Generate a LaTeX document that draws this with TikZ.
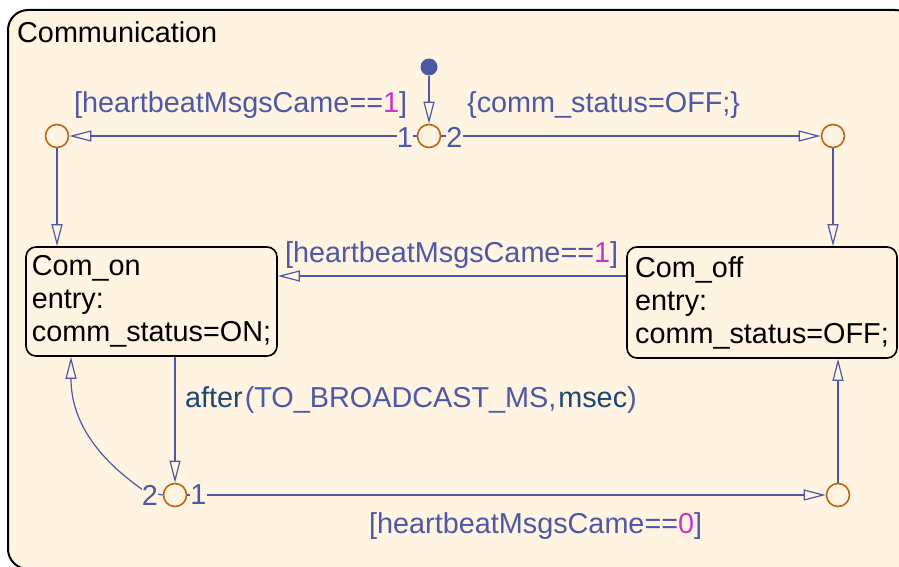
\documentclass[tikz,border=0pt]{standalone}
\usepackage{fontspec}
\setmainfont{Liberation Sans}
\usepackage{xcolor}
\usetikzlibrary{arrows.meta, positioning, calc}

\definecolor{chartbg}{RGB}{255,244,225}
\definecolor{transblue}{RGB}{78,88,164}
\definecolor{juncorange}{RGB}{192,98,18}
\definecolor{numpink}{RGB}{204,50,204}
\definecolor{kwnavy}{RGB}{28,70,120}

\begin{document}
\begin{tikzpicture}[
    x=1pt, y=-1pt,
    font=\fontsize{28.8}{33}\selectfont,
    state/.style={draw, rounded corners=10pt, line width=1.6pt, fill=chartbg, align=left, inner sep=0pt},
    junc/.style={circle, draw=juncorange, line width=1.6pt, fill=chartbg, minimum size=23pt, inner sep=0pt},
    dot/.style={circle, fill=transblue, minimum size=17pt, inner sep=0pt},
    trans/.style={draw=transblue, line width=1.2pt, ->},
    lbl/.style={text=transblue, inner sep=0pt, anchor=base west},
    num/.style={text=transblue, fill=chartbg, inner sep=0pt},
    >={Triangle[open, length=22pt, width=11pt]}
]
    \clip (0,0) rectangle (899,567);
    \fill[white] (0,0) rectangle (899,567);
    \draw[line width=2pt, rounded corners=20pt, fill=chartbg] (8,10) rectangle (915,569);
    \node[anchor=base west, inner sep=0pt] (title) at (17,43) {Communication};

    \node[dot] (init) at (429,67) {};
    \node[junc] (topj) at (429,136) {};
    \node[junc] (leftj) at (57,136) {};
    \node[junc] (rightj) at (833,136) {};
    \node[junc] (botl) at (175,495) {};
    \node[junc] (botr) at (838,495) {};
    \node[state, minimum width=251pt, minimum height=109pt] (on) at (151.5,301.5) {Com\_on\\entry:\\comm\_status=ON;};
    \node[state, minimum width=270pt, minimum height=111pt] (off) at (762,302.5) {Com\_off\\entry:\\comm\_status=OFF;};

    \draw[trans] (init) -- (topj);
    \draw[trans] (topj) -- (leftj);
    \draw[trans] (topj) -- (rightj);
    \draw[trans] (leftj) -- (on.north -| leftj);
    \draw[trans] (rightj) -- (off.north -| rightj);
    \coordinate (hb) at ([yshift=26.5pt]off.west);
    \draw[trans] (hb) -- (on.east |- hb);
    \draw[trans] (on.south -| botl) -- (botl);
    \draw[trans] (botl) -- (botr);
    \draw[trans] (botr) -- (off.south -| botr);
    \draw[trans] (botl.west) -- (146,492) .. controls (96,458) and (71,420) .. ([xshift=-80.5pt]on.south);

    \node[lbl] (g1) at (74,113) {[heartbeatMsgsCame==\textcolor{numpink}{1}]};
    \node[lbl] (a1) at (467,113) {\{comm\_status=OFF;\}};
    \node[num] (n1) at (405,137.5) {1};
    \node[num] (n2) at (454.5,137.5) {2};
    \node[lbl] (g2) at (285,262) {[heartbeatMsgsCame==\textcolor{numpink}{1}]};
    \node[lbl] (ev) at (185,407) {\textcolor{kwnavy}{after}\kern2pt(TO\_BROADCAST\_MS,\kern2pt\textcolor{kwnavy}{msec})};
    \node[num] (n3) at (150,495) {2};
    \node[num] (n4) at (198.5,495) {1};
    \node[lbl] (g3) at (369,533) {[heartbeatMsgsCame==\textcolor{numpink}{0}]};
\end{tikzpicture}
\end{document}
